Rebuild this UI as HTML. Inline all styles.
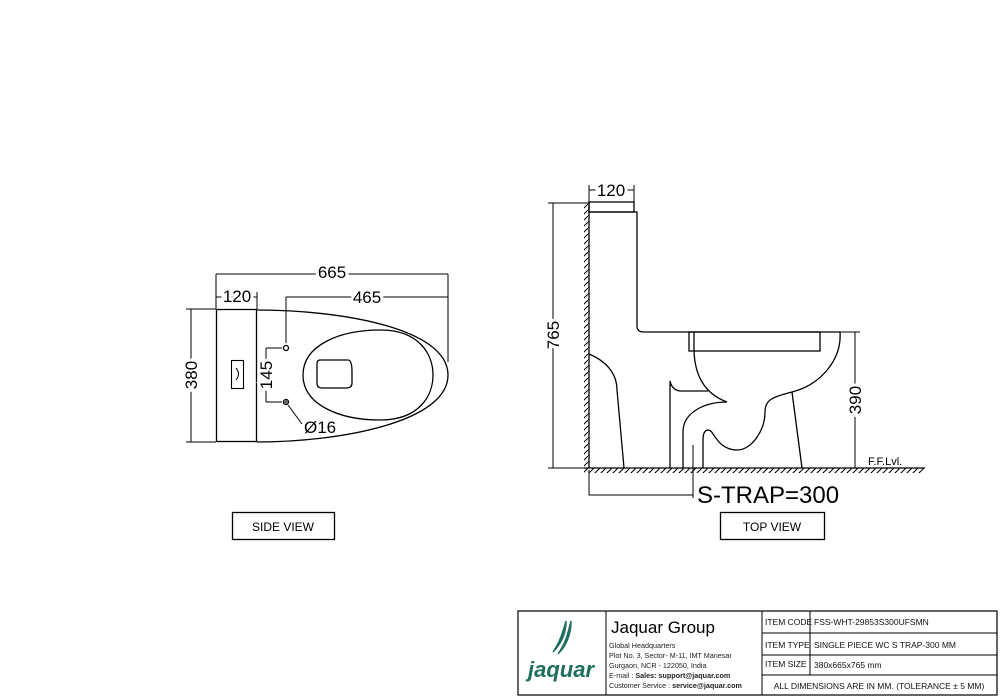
<!DOCTYPE html>
<html><head><meta charset="utf-8"><style>
html,body{margin:0;padding:0;background:#fff;}
svg{display:block;font-family:"Liberation Sans",sans-serif;}
</style></head><body>
<svg width="1000" height="698" viewBox="0 0 1000 698" xmlns="http://www.w3.org/2000/svg">
<defs>
<pattern id="hv" width="6" height="6" patternUnits="userSpaceOnUse"><path d="M0,6 L6,0" stroke="#000" stroke-width="1"/></pattern>
</defs>
<g fill="none" stroke="#000" stroke-width="1.3">
<!-- LEFT VIEW -->
<rect x="216.5" y="309.5" width="40" height="132"/>
<rect x="231.5" y="360.5" width="12" height="28" stroke-width="1.1"/>
<path d="M236,368 q5,6 0,12" stroke-width="1"/>
<path d="M257,310 C340,310 448,328 448,375 C448,422 340,442 257,442"/>
<path d="M303,375 C303,345 340,330 380,330 C420,330 433,355 433,375 C433,395 420,420 380,420 C340,420 303,405 303,375 Z"/>
<path d="M320,360 L348,360 Q352,360 352,372 L352,383 Q352,388 346,388 L322,388 Q317,388 317,383 L317,364 Q317,360 320,360 Z"/>
<circle cx="286" cy="348" r="2.5"/>
<circle cx="286" cy="402" r="2.5"/><path d="M283.5,402 h5 M286,399.5 v5" stroke-width="0.8"/>
<!-- dims left -->
<g stroke-width="1">
<path d="M216,274 H448 M216,274 V309 M448,274 V362"/>
<path d="M216,297 H257 M216,292 V309 M257,292 V309"/>
<path d="M286,297 H448 M286,297 V343"/>
<path d="M191,309 V442 M186,309 H216 M186,442 H216"/>
<path d="M266,348 V402 M266,348 H282 M266,402 H282"/>
<path d="M288,405 L302,424"/>
</g>
<!-- RIGHT VIEW -->
<rect x="584" y="203" width="5" height="265" fill="url(#hv)" stroke="none"/>
<rect x="584" y="468" width="340" height="5" fill="url(#hv)" stroke="none"/>
<path d="M589,203 V468 M584,468 H925"/>
<rect x="589" y="202" width="45" height="10"/>
<path d="M589,212 H637 V326 Q637,332 644,332 H840"/>
<rect x="689" y="332" width="131" height="19"/>
<path d="M694,332 V351"/>
<path d="M840,332 C842,360 820,385 792,392 C772,397 765,400 765,412 C765,430 752,450 737,450 C722,450 716,438 713,434 C710,428 703,428 703,440 V468"/>
<path d="M694,351 C695,380 708,395 727,402 C705,402 683,412 683,432 V468"/>
<path d="M670,468 V381 Q672,390 680,391 H708"/>
<path d="M792,392 L802,468"/>
<path d="M589,354 C608,362 617,375 617,390 L624,468"/>
<path d="M693,445 V468" stroke-width="0.9"/>
<g stroke-width="1">
<path d="M589,190 H634 M589,185 V203 M634,185 V203"/>
<path d="M553,203 V468 M548,203 H589 M548,468 H589"/>
<path d="M855,332 V468 M840,332 H860"/>
<path d="M589,470 V495 H693 M693,445 V498"/>
</g>
<!-- labels boxes -->
<rect x="232.5" y="512.5" width="102" height="27"/>
<rect x="720.5" y="512.5" width="104" height="27"/>
<!-- title block -->
<rect x="518" y="611" width="479" height="84" stroke-width="1.2"/>
<path d="M606,611 V695 M762,611 V695 M810,611 V675 M762,633 H997 M762,655 H997 M762,675 H997" stroke-width="1"/>
</g>
<g font-size="17" fill="#000">
<text x="332" y="278" text-anchor="middle" stroke="#fff" stroke-width="6" paint-order="stroke">665</text>
<text x="237" y="302" text-anchor="middle" stroke="#fff" stroke-width="6" paint-order="stroke">120</text>
<text x="367" y="303" text-anchor="middle" stroke="#fff" stroke-width="6" paint-order="stroke">465</text>
<text transform="translate(197,375) rotate(-90)" text-anchor="middle" stroke="#fff" stroke-width="6" paint-order="stroke">380</text>
<text transform="translate(272,375) rotate(-90)" text-anchor="middle" stroke="#fff" stroke-width="6" paint-order="stroke">145</text>
<text x="304" y="433">Ø16</text>
<text x="611" y="196" text-anchor="middle" stroke="#fff" stroke-width="6" paint-order="stroke">120</text>
<text transform="translate(559,335) rotate(-90)" text-anchor="middle" stroke="#fff" stroke-width="6" paint-order="stroke">765</text>
<text transform="translate(861,400) rotate(-90)" text-anchor="middle" stroke="#fff" stroke-width="6" paint-order="stroke">390</text>
</g>
<text x="868" y="465" font-size="11">F.F.Lvl.</text>
<text x="697" y="503" font-size="24">S-TRAP=300</text>
<text x="283" y="531" font-size="12" text-anchor="middle">SIDE VIEW</text>
<text x="772" y="531" font-size="12" text-anchor="middle">TOP VIEW</text>
<!-- logo -->
<path d="M566,621 C566,635 560,645 553,652 C560,642 563,632 566,621 Z M571,621 C571,636 566,646 558,654 C566,643 568,633 571,621 Z" fill="#1f6e5e" stroke="#1f6e5e" stroke-width="1.5"/>
<text x="561" y="677" font-size="22" font-style="italic" font-weight="bold" fill="#1f6e5e" text-anchor="middle">jaquar</text>
<text x="611" y="633" font-size="17">Jaquar Group</text>
<g font-size="7.2" fill="#222">
<text x="609" y="648">Global Headquarters</text>
<text x="609" y="658">Plot No. 3, Sector- M-11, IMT Manesar</text>
<text x="609" y="668">Gurgaon, NCR - 122050, India</text>
<text x="609" y="678">E-mail : <tspan font-weight="bold">Sales: support@jaquar.com</tspan></text>
<text x="609" y="688">Customer Service : <tspan font-weight="bold">service@jaquar.com</tspan></text>
</g>
<g font-size="8.5" fill="#111">
<text x="765" y="625">ITEM  CODE</text>
<text x="765" y="648">ITEM  TYPE</text>
<text x="765" y="667">ITEM  SIZE</text>
<text x="814" y="625">FSS-WHT-29853S300UFSMN</text>
<text x="814" y="648">SINGLE PIECE WC S TRAP-300 MM</text>
<text x="814" y="668">380x665x765 mm</text>
<text x="879" y="689" text-anchor="middle">ALL DIMENSIONS ARE IN MM. (TOLERANCE ± 5 MM)</text>
</g>
</svg>
</body></html>
